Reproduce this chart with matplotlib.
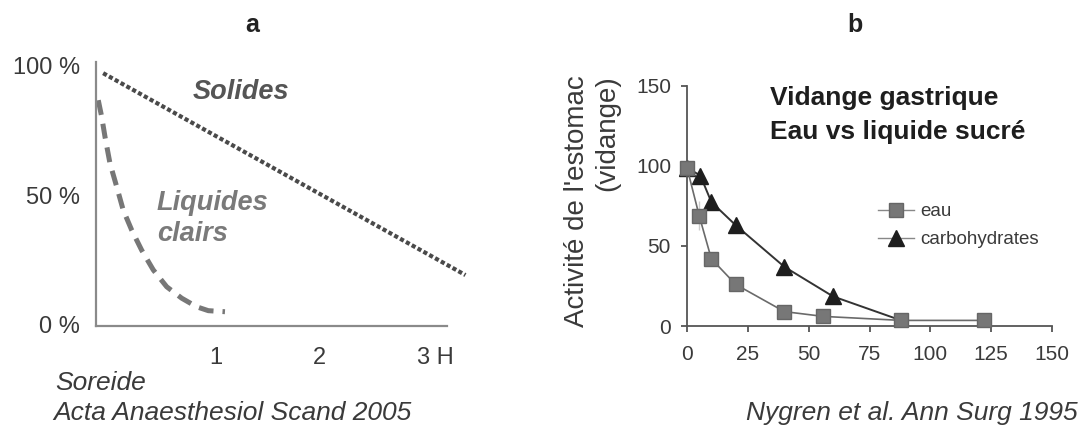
import matplotlib
matplotlib.use("Agg")
import matplotlib.pyplot as plt
import matplotlib.transforms as mtransforms
from matplotlib.lines import Line2D

plt.rcParams['font.family'] = ['Liberation Sans', 'DejaVu Sans']

# ---- Panel a data ----
solides_h = [-0.09, 3.41]
solides_pct = [96.9, 19.2]
liquides_h = [-0.137, -0.104, -0.072, -0.024, 0.041, 0.104, 0.186, 0.282,
              0.394, 0.524, 0.669, 0.813, 0.926, 1.087]
liquides_pct = [86.5, 80.1, 72.4, 62.2, 53.2, 44.2, 36.5, 28.8,
                21.2, 14.7, 10.3, 7.0, 5.5, 5.1]
a_yticks = [0, 50, 100]
a_yticklabels = ['0 %', '50 %', '100 %']
a_xticks = [1, 2, 3]
a_xticklabels = ['1', '2', '3 H']

# ---- Panel b data ----
eau_t = [0, 5, 10, 20, 40, 56, 88, 122]
eau_v = [99, 69, 42, 26, 9, 6, 3.5, 3.5]
eau_err = [0, 9, 4, 0, 0, 0, 0, 0]
carb_t = [0, 5.5, 10, 20, 40, 60, 88]
carb_v = [99, 94, 77.5, 63, 37, 18.5, 3.5]
b_ticks = [0, 25, 50, 75, 100, 125, 150]
b_yticks = [0, 50, 100, 150]

W, H = 1084, 434
fig = plt.figure(figsize=(W / 100, H / 100), dpi=100)

def rect(x0, y_top, x1, y_bot):
    return [x0 / W, 1 - y_bot / H, (x1 - x0) / W, (y_bot - y_top) / H]

TXT = '#3a3a3a'

# ---------- Panel a ----------
axa = fig.add_axes(rect(96, 62, 447, 326))
axa.plot(solides_h, solides_pct, color='#4a4a4a', lw=3.0,
         linestyle=(0, (1.0, 0.6)), clip_on=False, solid_capstyle='butt')
axa.plot(liquides_h, liquides_pct, color='#777777', lw=3.6,
         linestyle=(0, (3.0, 1.8)), clip_on=False)
axa.set_xlim(-0.159, 3.232)
axa.set_ylim(-0.4, 101.2)
for s in ['top', 'right']:
    axa.spines[s].set_visible(False)
for s in ['left', 'bottom']:
    axa.spines[s].set_color('#8a8a8a')
    axa.spines[s].set_linewidth(1.6)
axa.set_yticks(a_yticks)
axa.set_yticklabels(a_yticklabels)
axa.set_xticks(a_xticks)
axa.set_xticklabels(a_xticklabels)
axa.tick_params(axis='y', length=0, pad=11.5, labelsize=17, labelcolor=TXT)
axa.tick_params(axis='x', length=0, pad=15, labelsize=17, labelcolor=TXT)
lbl = axa.get_xticklabels()[-1]
lbl.set_transform(lbl.get_transform() +
                  mtransforms.ScaledTranslation(12 / 100, 0, fig.dpi_scale_trans))

fig.text(193 / W, 1 - 92 / H, 'Solides', fontsize=19.5, fontweight='bold',
         fontstyle='italic', color='#555555', ha='left', va='center')
fig.text(157 / W, 1 - 203 / H, 'Liquides', fontsize=19.5, fontweight='bold',
         fontstyle='italic', color='#7a7a7a', ha='left', va='center')
fig.text(157 / W, 1 - 234 / H, 'clairs', fontsize=19.5, fontweight='bold',
         fontstyle='italic', color='#7a7a7a', ha='left', va='center')

fig.text(252 / W, 1 - 25 / H, 'a', fontsize=18, fontweight='bold',
         color='#222222', ha='center', va='center')
fig.text(55 / W, 1 - 383 / H, 'Soreide', fontsize=19, fontstyle='italic',
         color=TXT, ha='left', va='center')
fig.text(53 / W, 1 - 413 / H, 'Acta Anaesthesiol Scand 2005', fontsize=19,
         fontstyle='italic', color=TXT, ha='left', va='center')

# ---------- Panel b ----------
axb = fig.add_axes(rect(687, 86, 1052, 326))
axb.errorbar(eau_t, eau_v, yerr=eau_err, fmt='none', ecolor='#cccccc',
             elinewidth=1.0, capsize=0, zorder=1)
axb.plot(eau_t, eau_v, color='#6a6a6a', lw=1.2, marker='s', markersize=9.5,
         markerfacecolor='#777777', markeredgecolor='#666666', label='eau',
         clip_on=False, zorder=3)
axb.plot(carb_t, carb_v, color='#333333', lw=1.4, marker='^', markersize=11,
         markerfacecolor='#1e1e1e', markeredgecolor='#1e1e1e',
         markevery=list(range(len(carb_t) - 1)),
         label='carbohydrates', clip_on=False, zorder=2)
axb.set_xlim(0, 150)
axb.set_ylim(0, 150)
axb.set_xticks(b_ticks)
axb.set_yticks(b_yticks)
for s in ['top', 'right']:
    axb.spines[s].set_visible(False)
for s in ['left', 'bottom']:
    axb.spines[s].set_color('#555555')
    axb.spines[s].set_linewidth(1.3)
axb.tick_params(axis='both', direction='out', length=4.5, width=1.3,
                color='#555555', labelsize=15, labelcolor=TXT)
axb.tick_params(axis='x', pad=9)
axb.tick_params(axis='y', pad=7)

handles, labels = axb.get_legend_handles_labels()
leg_handles = [
    Line2D([], [], color='#888888', lw=1.0, marker='s', markersize=9.5,
           markerfacecolor='#777777', markeredgecolor='#666666'),
    Line2D([], [], color='#888888', lw=1.0, marker='^', markersize=11,
           markerfacecolor='#1e1e1e', markeredgecolor='#1e1e1e'),
]
axb.legend(leg_handles, labels, loc='upper left',
           bbox_to_anchor=((878 - 687) / 365, (326 - 203) / 240),
           frameon=False, fontsize=13.5, handlelength=1.9, handletextpad=0.35,
           labelspacing=0.6, borderpad=0, borderaxespad=0, labelcolor=TXT)

fig.text(770 / W, 1 - 98 / H, 'Vidange gastrique', fontsize=19, fontweight='bold',
         color='#1e1e1e', ha='left', va='center')
fig.text(770 / W, 1 - 132 / H, 'Eau vs liquide sucré', fontsize=19,
         fontweight='bold', color='#1e1e1e', ha='left', va='center')

fig.text(592 / W, 1 - 201 / H, "Activité de l'estomac\n(vidange)", fontsize=20,
         rotation=90, ha='center', va='center', multialignment='right',
         color=TXT, linespacing=1.2)

fig.text(855 / W, 1 - 25 / H, 'b', fontsize=18, fontweight='bold',
         color='#222222', ha='center', va='center')
fig.text(1078 / W, 1 - 413 / H, 'Nygren et al. Ann Surg 1995', fontsize=19,
         fontstyle='italic', color=TXT, ha='right', va='center')

fig.savefig('out.png', dpi=100)
